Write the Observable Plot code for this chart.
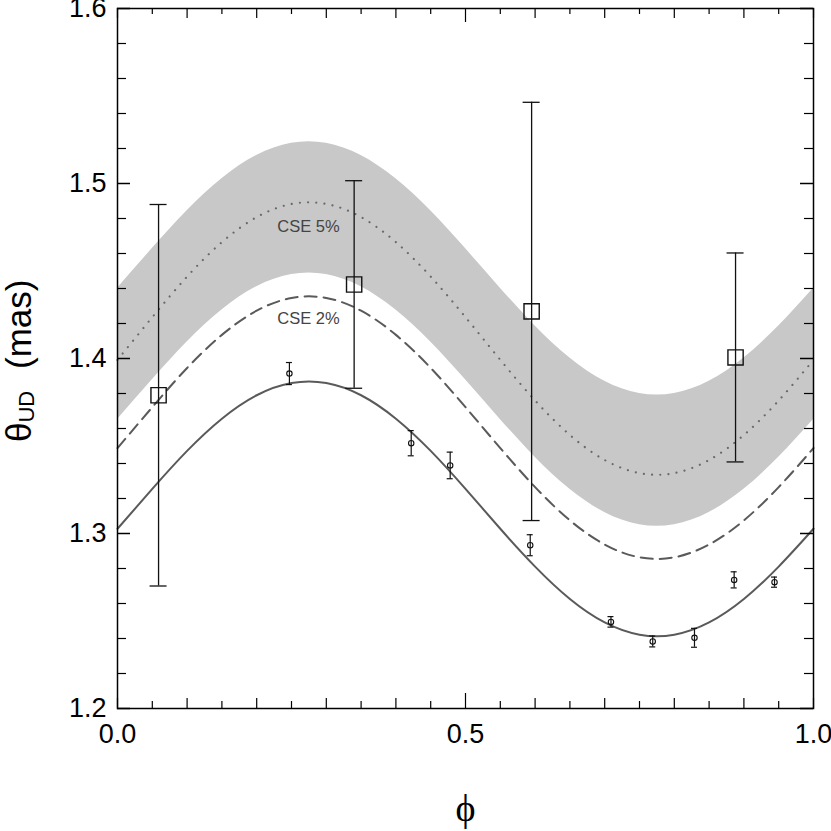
<!DOCTYPE html>
<html><head><meta charset="utf-8">
<script src="https://cdn.jsdelivr.net/npm/d3@7"></script>
<script src="https://cdn.jsdelivr.net/npm/@observablehq/plot@0.6"></script>
<style>body{margin:0;background:#fff} svg{display:block}</style>
</head><body><div id="chart"></div>
<script>
// phase grid for model curves
const phaseGrid = [0,0.05,0.10,0.15,0.20,0.25,0.30,0.35,0.40,0.45,0.50,0.55,0.60,0.65,0.70,0.75,0.80,0.85,0.90,0.95,1.00];
// model without CSE (solid)
const modelNoCse = [1.3027,1.3255,1.3472,1.3656,1.3790,1.3860,1.3860,1.3790,1.3656,1.3472,1.3255,1.3027,1.2811,1.2626,1.2492,1.2422,1.2422,1.2492,1.2626,1.2811,1.3027];
// CSE 2% (dashed)
const modelCse2 = [1.3488,1.3722,1.3946,1.4135,1.4273,1.4346,1.4346,1.4273,1.4135,1.3946,1.3722,1.3488,1.3265,1.3075,1.2937,1.2864,1.2864,1.2937,1.3075,1.3265,1.3488];
// CSE 5% (dotted)
const modelCse5 = [1.3992,1.4236,1.4468,1.4665,1.4808,1.4883,1.4883,1.4808,1.4665,1.4468,1.4236,1.3992,1.3760,1.3563,1.3420,1.3345,1.3345,1.3420,1.3563,1.3760,1.3992];
// shaded band
const bandHigh = [1.4402,1.4628,1.4844,1.5027,1.5160,1.5230,1.5230,1.5160,1.5027,1.4844,1.4628,1.4402,1.4186,1.4003,1.3870,1.3800,1.3800,1.3870,1.4003,1.4186,1.4402];
const bandLow  = [1.3652,1.3878,1.4094,1.4277,1.4410,1.4480,1.4480,1.4410,1.4277,1.4094,1.3878,1.3652,1.3436,1.3253,1.3120,1.3050,1.3050,1.3120,1.3253,1.3436,1.3652];

// small-circle measurements
const obsPhase = [0.247,0.422,0.478,0.593,0.709,0.769,0.829,0.886,0.944];
const obsTheta = [1.3914,1.3516,1.3389,1.2933,1.2495,1.2383,1.2404,1.2735,1.2722];
const obsErr   = [0.0063,0.0072,0.0076,0.0060,0.0030,0.0031,0.0054,0.0046,0.0029];

// large-square measurements
const sqPhase = [0.059,0.340,0.595,0.888];
const sqTheta = [1.379,1.4423,1.4269,1.4006];
const sqErr   = [0.109,0.0593,0.1195,0.0597];

// axes
const xDomain = [0,1];
const yDomain = [1.2,1.6];
const xLabelTicks = [0,0.5,1.0];
const yLabelTicks = [1.2,1.3,1.4,1.5,1.6];
const xTicks05 = [0.05,0.15,0.25,0.35,0.45,0.55,0.65,0.75,0.85,0.95];
const xTicks10 = [0,0.1,0.2,0.3,0.4,0.6,0.7,0.8,0.9,1.0];
const xTicksMajor = [0.5];
const yTicksMinor = [1.22,1.24,1.26,1.28,1.32,1.34,1.36,1.38,1.42,1.44,1.46,1.48,1.52,1.54,1.56,1.58];
const yTicksMajor = [1.2,1.3,1.4,1.5,1.6];

const curveLabelText = ["CSE 5%","CSE 2%"];
const curveLabelPhase = [0.2744,0.2744];
const curveLabelTheta = [1.4754,1.4229];

const xTitle = "ϕ";

const curves = phaseGrid.map((p,i)=>({p, s:modelNoCse[i], d:modelCse2[i], o:modelCse5[i], hi:bandHigh[i], lo:bandLow[i]}));
const obs = obsPhase.map((p,i)=>({p, t:obsTheta[i], e:obsErr[i]}));
const sq = sqPhase.map((p,i)=>({p, t:sqTheta[i], e:sqErr[i]}));
const labels = curveLabelText.map((t,i)=>({t, p:curveLabelPhase[i], y:curveLabelTheta[i]}));

const lineCol = "#5a5a5a";
const x0 = () => xDomain[0], x1 = () => xDomain[1];
const y0 = () => yDomain[0], y1 = () => yDomain[1];

const chart = Plot.plot({
  width: 831, height: 831,
  marginLeft: 117, marginRight: 18, marginTop: 8, marginBottom: 123,
  style: {fontFamily: "Liberation Sans, Arial, sans-serif", background: "#fff", color: "#000"},
  x: {domain: xDomain},
  y: {domain: yDomain},
  marks: [
    Plot.areaY(curves, {x:"p", y1:"lo", y2:"hi", fill:"#c8c8c8", curve:"natural"}),
    Plot.line(curves, {x:"p", y:"o", stroke:"#6a6a6a", strokeWidth:2.2, strokeDasharray:"0.01 8.2", strokeLinecap:"round", curve:"natural"}),
    Plot.line(curves, {x:"p", y:"d", stroke:lineCol, strokeWidth:2, strokeDasharray:"12 7", curve:"natural"}),
    Plot.line(curves, {x:"p", y:"s", stroke:lineCol, strokeWidth:2, curve:"natural"}),
    Plot.text(labels, {x:"p", y:"y", text:"t", fontSize:16.5, fill:"#444"}),
    // large squares with error bars
    Plot.ruleX(sq, {x:"p", y1:d=>d.t-d.e, y2:d=>d.t+d.e, stroke:"#111", strokeWidth:1.3}),
    Plot.ruleY(sq, {y:d=>d.t+d.e, x1:"p", x2:"p", insetLeft:-8.5, insetRight:-8.5, stroke:"#111", strokeWidth:1.3}),
    Plot.ruleY(sq, {y:d=>d.t-d.e, x1:"p", x2:"p", insetLeft:-8.5, insetRight:-8.5, stroke:"#111", strokeWidth:1.3}),
    Plot.dot(sq, {x:"p", y:"t", symbol:"square", r:8.6, stroke:"#111", fill:"none", strokeWidth:1.4}),
    // small circles with error bars
    Plot.ruleX(obs, {x:"p", y1:d=>d.t-d.e, y2:d=>d.t+d.e, stroke:"#111", strokeWidth:1.2}),
    Plot.ruleY(obs, {y:d=>d.t+d.e, x1:"p", x2:"p", insetLeft:-3, insetRight:-3, stroke:"#111", strokeWidth:1.2}),
    Plot.ruleY(obs, {y:d=>d.t-d.e, x1:"p", x2:"p", insetLeft:-3, insetRight:-3, stroke:"#111", strokeWidth:1.2}),
    Plot.dot(obs, {x:"p", y:"t", r:2.7, stroke:"#111", fill:"none", strokeWidth:1.1}),
    // inward ticks
    Plot.ruleX(xTicks05, {x:d=>d, y1:y0, y2:y0, insetTop:-7, stroke:"#000", strokeWidth:1.2}),
    Plot.ruleX(xTicks10, {x:d=>d, y1:y0, y2:y0, insetTop:-10, stroke:"#000", strokeWidth:1.2}),
    Plot.ruleX(xTicksMajor, {x:d=>d, y1:y0, y2:y0, insetTop:-15, stroke:"#000", strokeWidth:1.2}),
    Plot.ruleX(xTicks05, {x:d=>d, y1:y1, y2:y1, insetBottom:-6, stroke:"#000", strokeWidth:1.2}),
    Plot.ruleX(xTicks10, {x:d=>d, y1:y1, y2:y1, insetBottom:-10, stroke:"#000", strokeWidth:1.2}),
    Plot.ruleX(xTicksMajor, {x:d=>d, y1:y1, y2:y1, insetBottom:-14, stroke:"#000", strokeWidth:1.2}),
    Plot.ruleY(yTicksMinor, {y:d=>d, x1:x0, x2:x0, insetRight:-9, stroke:"#000", strokeWidth:1.2}),
    Plot.ruleY(yTicksMajor, {y:d=>d, x1:x0, x2:x0, insetRight:-13, stroke:"#000", strokeWidth:1.5}),
    Plot.ruleY(yTicksMinor, {y:d=>d, x1:x1, x2:x1, insetLeft:-9, stroke:"#000", strokeWidth:1.2}),
    Plot.ruleY(yTicksMajor, {y:d=>d, x1:x1, x2:x1, insetLeft:-13, stroke:"#000", strokeWidth:1.5}),
    Plot.frame({stroke:"#000", strokeWidth:1.5}),
    Plot.axisX({ticks:xLabelTicks, tickSize:0, tickPadding:15, tickFormat:d3.format(".1f"), fontSize:27, label:null}),
    Plot.axisY({ticks:yLabelTicks, tickSize:0, tickPadding:11, tickFormat:d3.format(".1f"), fontSize:27, label:null}),
    Plot.text([xTitle], {frameAnchor:"bottom", dy:112, text:d=>d, fontSize:38, fontFamily:"Liberation Serif, DejaVu Serif, serif"})
  ]
});
document.getElementById("chart").appendChild(chart);

// y-axis title with subscript
const svg = d3.select(chart.tagName.toLowerCase()==="svg" ? chart : chart.querySelector("svg"));
const t = svg.append("text")
  .attr("transform", "translate(31,442) rotate(-90)")
  .attr("text-anchor", "start")
  .attr("font-family", "Liberation Sans, Arial, sans-serif")
  .attr("font-size", 35)
  .attr("fill", "#000");
t.append("tspan").text("θ");
t.append("tspan").attr("font-size", 22).attr("dy", 3).text("UD");
t.append("tspan").attr("dy", -3).attr("dx", 12).text(" (mas)");
</script></body></html>
